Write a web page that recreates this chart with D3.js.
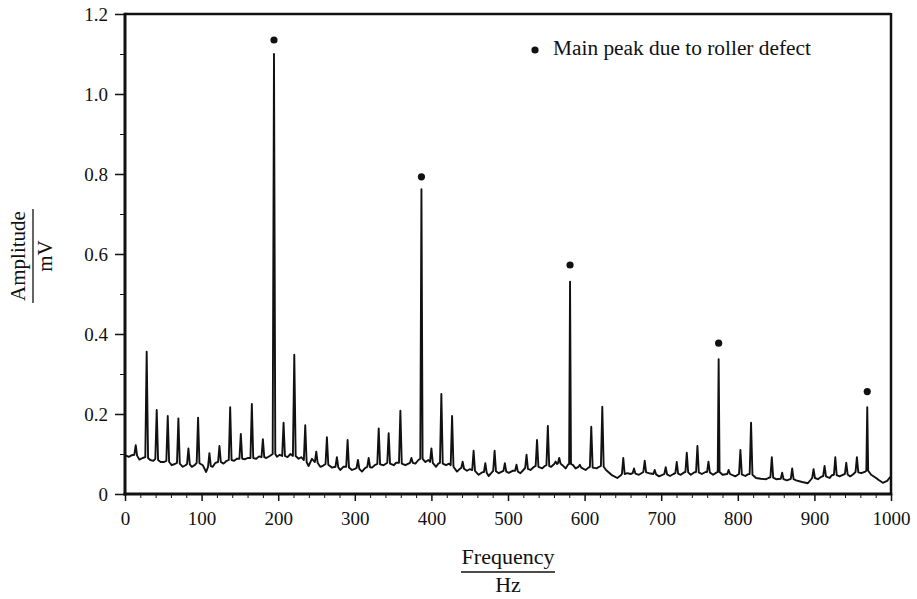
<!DOCTYPE html>
<html>
<head>
<meta charset="utf-8">
<script src="https://cdn.jsdelivr.net/npm/d3@7"></script>
<style>
  body { margin: 0; background: #fff; }
  text { font-family: "Liberation Serif", "Times New Roman", serif; fill: #111; }
</style>
</head>
<body>
<div id="chart"></div>
<script>
// spectrum trace: frequency (Hz) and amplitude (mV)
var freq = [
  0, 5, 9, 12.2, 14, 15.8, 18.8, 23, 26.5, 28.3, 30.1, 33, 37, 39.6, 41.4, 43.2, 46.6,
  51, 54, 55.8, 57.6, 61, 65, 67.9, 69.7, 71.5, 75.4, 79, 81, 82.8, 84.6, 87.2, 91, 93.6, 95.4, 97.2,
  101.5, 105.9, 108.4, 110.2, 112, 114.6, 118, 121.5, 123.3, 125.1, 128.6, 132, 135.5, 137.3, 139.1, 142.5, 146, 149.4, 151.2, 153, 156.9,
  160, 163.8, 165.6, 167.4, 171.3, 175, 178.2, 180, 181.8, 184.5, 189, 192.8, 194.5, 196.2, 198.4,
  202, 205.2, 207, 208.8, 212.2, 216, 219.2, 221, 222.8, 226.6, 230, 233.5, 235.3, 237.1, 239.7, 244, 247.9, 249.7, 251.5, 254.9, 258,
  261.8, 263.6, 265.4, 270, 274.8, 276.6, 278.4, 281, 285, 288.8, 290.6, 292.4, 296.3, 300, 302.3, 304.1, 305.9, 309.4, 313, 316.3, 318.1, 319.9, 322.5, 326, 329.4,
  331.2, 333, 337.6, 342.4, 344.2, 346, 350.8, 354, 357.7, 359.5, 361.3, 366, 372.1, 373.9, 375.7, 379.1, 383, 385.5, 387, 388.5, 392.2, 396, 398.2, 400, 401.8,
  406.1, 409, 411.2, 413, 414.8, 419.1, 423, 425.2, 427, 428.8, 433.4, 437, 439, 440.8, 442.6, 446.4, 450, 453.3, 455.1, 456.9, 461.7, 466, 468.6, 470.4, 472.2,
  474.7, 478, 480.7, 482.5, 484.3, 488, 492, 494.1, 495.9, 497.7, 501.1, 506, 509.3, 511.1, 512.9, 516.3, 520, 522.4, 524.2, 526, 529.4, 534, 536.1, 537.9, 539.7, 544.7, 548, 550.2, 552, 553.8, 556.4,
  560.3, 562.1, 564, 565.2, 566.9, 568.6, 571, 575.2, 578.5, 579.8, 581, 582.2, 585, 588.2, 592, 593.8, 595.6, 601.3, 605, 606.9, 608.7, 610.5, 615.7, 619, 621.3, 623.1, 624.9, 628, 635,
  642.7, 647, 648.7, 650.5, 652.3, 655.8, 660, 662.7, 664.5, 666.3, 671, 676.7, 678.5, 680.3, 684.1, 689.7, 691.5, 693.3, 697.2, 704.1, 705.9, 707.7, 711.5, 716, 718.5, 720.3, 722.1,
  725.5, 730, 731.6, 733.4, 735.2, 738.6, 743, 745.5, 747.3, 749.1, 753, 758, 759.9, 761.7, 763.5, 767.8, 772.5, 773.8, 775, 776.2, 780.1, 786.2, 788, 789.8, 796.7, 800,
  801.6, 803.4, 805.2, 809.9, 813, 815.5, 817.3, 819.1, 823.9, 830, 836.9, 840, 842.6, 844.4, 846.2, 850, 856.1, 857.9, 859.7, 864, 869.2, 871, 872.8, 876.2, 884,
  891.5, 895, 897.1, 898.9, 900.7, 904.6, 909, 911.5, 913.3, 915.1, 919.8, 923, 925.5, 927.3, 929.1, 932.9, 937, 939.8, 941.6, 943.4, 946.8, 951, 953.7, 955.5, 957.3, 961.2, 966.5, 967.8, 969, 970.2, 974.1, 980.6, 984, 989.3, 995, 1000
];
var amp = [
  .097, .093, .097, .098, .122, .096, .086, .09, .092, .356, .09, .085, .083, .088, .21, .085, .08,
  .08, .083, .195, .08, .072, .075, .078, .189, .076, .068, .072, .075, .114, .074, .068, .072, .078, .191, .077,
  .072, .055, .068, .102, .07, .068, .078, .08, .12, .08, .076, .082, .085, .217, .085, .083, .088, .088, .15, .088, .087,
  .09, .09, .225, .09, .088, .094, .092, .137, .092, .09, .095, .1, 1.10, .1, .093,
  .098, .095, .178, .095, .092, .1, .095, .348, .095, .088, .092, .085, .172, .08, .07, .088, .08, .106, .078, .068, .07,
  .075, .142, .073, .066, .068, .092, .067, .06, .068, .068, .135, .066, .06, .063, .065, .085, .063, .056, .064, .068, .09, .067, .066, .072, .075,
  .164, .074, .072, .078, .152, .076, .072, .078, .078, .208, .076, .072, .078, .09, .078, .076, .085, .088, .762, .088, .08, .085, .08, .114, .078,
  .068, .076, .078, .25, .076, .072, .076, .072, .195, .068, .056, .063, .065, .081, .063, .058, .062, .06, .108, .058, .048, .054, .055, .077, .053,
  .045, .052, .058, .108, .057, .052, .056, .058, .077, .056, .053, .058, .058, .073, .056, .052, .06, .065, .098, .063, .06, .068, .07, .135, .068, .064, .07, .072, .17, .07, .068,
  .075, .081, .075, .077, .09, .076, .072, .064, .074, .075, .531, .075, .072, .064, .068, .073, .066, .06, .066, .068, .168, .066, .064, .068, .07, .218, .068, .06, .048,
  .04, .046, .05, .09, .05, .052, .05, .052, .064, .051, .048, .055, .083, .054, .052, .05, .06, .049, .044, .05, .067, .049, .045, .05, .052, .08, .051,
  .048, .054, .055, .103, .054, .048, .054, .055, .12, .054, .05, .055, .055, .081, .054, .048, .054, .055, .337, .055, .048, .05, .06, .05, .044, .048,
  .05, .11, .049, .045, .049, .05, .178, .048, .04, .038, .037, .04, .042, .092, .041, .037, .038, .053, .037, .034, .038, .064, .037, .034, .03,
  .027, .035, .04, .062, .04, .037, .043, .045, .07, .044, .04, .047, .048, .092, .047, .044, .048, .05, .078, .049, .044, .05, .055, .092, .054, .052, .056, .058, .217, .058, .048, .04, .035, .028, .033, .045
];

// main peaks due to roller defect (dot markers)
var mainFreq = [194.5, 387, 581, 775, 969];
var mainDot = [1.135, 0.793, 0.5725, 0.377, 0.256];

var xTicks = [0, 100, 200, 300, 400, 500, 600, 700, 800, 900, 1000];
var yTicks = [0, 0.2, 0.4, 0.6, 0.8, 1.0, 1.2];
var yTickLabels = ["0", "0.2", "0.4", "0.6", "0.8", "1.0", "1.2"];
var legendText = "Main peak due to roller defect";

var svgWidth = 917;
var svgHeight = 599;

var svg = d3.select("#chart")
  .append("svg")
  .attr("width", svgWidth)
  .attr("height", svgHeight);

// plot box in pixels
var plotLeft = 125, plotRight = 891, plotTop = 14, plotBottom = 494;

var x = d3.scaleLinear().domain([0, 1000]).range([plotLeft, plotRight]);
var y = d3.scaleLinear().domain([0, 1.2]).range([plotBottom, plotTop]);

// y axis: major ticks every 0.2, minor every 0.1, pointing out
var yAxis = d3.axisLeft(y)
  .tickValues(yTicks)
  .tickSize(10)
  .tickPadding(7)
  .tickFormat((d, i) => yTickLabels[i]);
var yMinor = d3.axisLeft(y)
  .tickValues(d3.range(1, 12, 2).map(d => d / 10))
  .tickSize(5)
  .tickFormat("");

var gy = svg.append("g").attr("transform", `translate(${plotLeft},0)`).call(yAxis);
svg.append("g").attr("transform", `translate(${plotLeft},0)`).call(yMinor)
  .call(g => g.select(".domain").remove());
gy.select(".domain").remove();
gy.selectAll("line").attr("stroke-width", 1.5);
gy.selectAll("text").attr("font-size", 19).attr("dy", "0.34em");

// x axis: major ticks every 100, minor every 20, pointing out
var xAxis = d3.axisBottom(x)
  .tickValues(xTicks)
  .tickSize(7)
  .tickPadding(11)
  .tickFormat(d3.format("d"));
var xMinor = d3.axisBottom(x)
  .tickValues(d3.range(20, 1000, 20).filter(d => d % 100 !== 0))
  .tickSize(4)
  .tickFormat("");

var gx = svg.append("g").attr("transform", `translate(0,${plotBottom})`).call(xAxis);
svg.append("g").attr("transform", `translate(0,${plotBottom})`).call(xMinor)
  .call(g => g.select(".domain").remove());
gx.select(".domain").remove();
gx.selectAll("line").attr("stroke-width", 1.5);
gx.selectAll("text").attr("font-size", 19);
svg.selectAll(".tick line").attr("stroke", "#111");
svg.selectAll(".tick text").attr("fill", "#111");
svg.selectAll("g").attr("font-family", null);

// frame
svg.append("line").attr("x1", plotLeft).attr("x2", plotRight).attr("y1", plotTop).attr("y2", plotTop)
  .attr("stroke", "#111").attr("stroke-width", 2.5);
svg.append("line").attr("x1", plotRight).attr("x2", plotRight).attr("y1", plotTop - 1).attr("y2", plotBottom + 1)
  .attr("stroke", "#111").attr("stroke-width", 2.5);
svg.append("line").attr("x1", plotLeft).attr("x2", plotLeft).attr("y1", plotTop - 1.2).attr("y2", plotBottom + 1.5)
  .attr("stroke", "#111").attr("stroke-width", 3);
svg.append("line").attr("x1", plotLeft - 1.5).attr("x2", plotRight + 1.2).attr("y1", plotBottom).attr("y2", plotBottom)
  .attr("stroke", "#111").attr("stroke-width", 3);

// spectrum trace
var trace = freq.map((f, i) => [f, amp[i]]);
var line = d3.line()
  .x(d => x(d[0]))
  .y(d => y(d[1]));

svg.append("path")
  .datum(trace)
  .attr("d", line)
  .attr("fill", "none")
  .attr("stroke", "#111")
  .attr("stroke-width", 1.9)
  .attr("stroke-linejoin", "round");

// dots above the main peaks
svg.selectAll(".dot")
  .data(mainFreq)
  .enter()
  .append("circle")
  .attr("class", "dot")
  .attr("cx", d => x(d))
  .attr("cy", (d, i) => y(mainDot[i]))
  .attr("r", 3.6)
  .attr("fill", "#111");

// legend
svg.append("circle").attr("cx", 535).attr("cy", 50).attr("r", 3.6).attr("fill", "#111");
svg.append("text")
  .attr("x", 553)
  .attr("y", 55)
  .attr("font-size", 20)
  .attr("textLength", 258)
  .attr("lengthAdjust", "spacingAndGlyphs")
  .text(legendText);

// x axis title as fraction Frequency / Hz
var xt = svg.append("g").attr("transform", `translate(${(plotLeft + plotRight) / 2},572)`);
xt.append("text").attr("y", -8).attr("text-anchor", "middle").attr("font-size", 22).text("Frequency");
xt.append("line").attr("x1", -47).attr("x2", 47).attr("stroke", "#111").attr("stroke-width", 1.3);
xt.append("text").attr("y", 20).attr("text-anchor", "middle").attr("font-size", 22).text("Hz");

// y axis title as fraction Amplitude / mV
var yt = svg.append("g").attr("transform", "translate(33,256) rotate(-90)");
yt.append("text").attr("y", -8).attr("text-anchor", "middle").attr("font-size", 21).text("Amplitude");
yt.append("line").attr("x1", -47).attr("x2", 47).attr("stroke", "#111").attr("stroke-width", 1.3);
yt.append("text").attr("y", 19).attr("text-anchor", "middle").attr("font-size", 21).text("mV");
</script>
</body>
</html>
